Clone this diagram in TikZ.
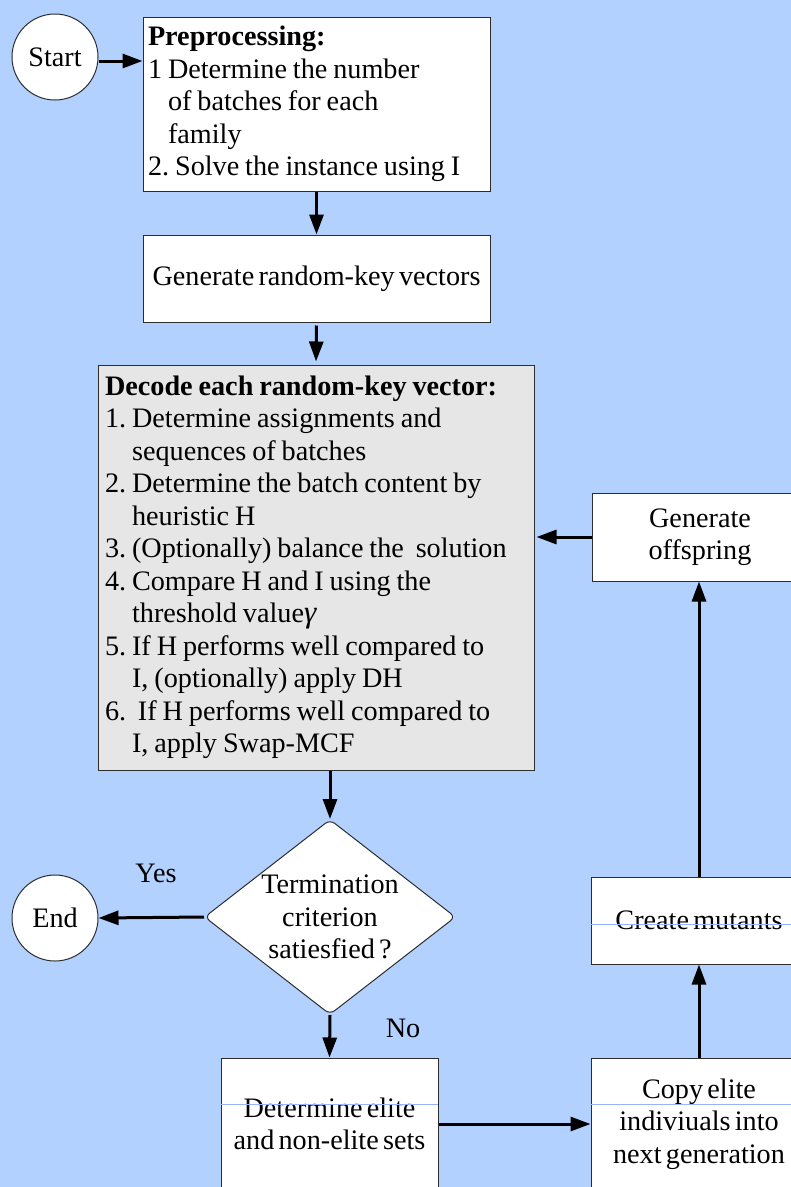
\documentclass[tikz,border=0pt]{standalone}
\usepackage{fontspec}
\setmainfont{Liberation Serif}[WordSpace={0.6,0,0}]
\usetikzlibrary{arrows.meta,shapes.geometric}

\definecolor{sky}{RGB}{179,209,255}
\definecolor{panel}{RGB}{230,230,230}
\definecolor{rim}{RGB}{45,45,45}

\begin{document}
\frenchspacing
\hyphenpenalty=10000
\begin{tikzpicture}[x=1pt,y=-1pt,
	every node/.style={font=\fontsize{28.2}{32.5}\selectfont},
	box/.style={draw=rim,line width=1pt,fill=white,inner sep=0pt,align=center},
	listbox/.style={box,align=left,inner xsep=#1,execute at begin node={\spaceskip=0.21em\xspaceskip=0.21em\relax}},
	terminal/.style={circle,draw=rim,line width=1pt,fill=white,inner sep=0pt,minimum size=86pt},
	decision/.style={diamond,draw=rim,line width=1pt,fill=white,inner sep=0pt,align=center,aspect=1.29,minimum width=251pt,minimum height=195pt,rounded corners=6pt},
	flow/.style={line width=3pt,-{Triangle[length=20pt,width=14pt]}},
	seam/.style={sky!85!blue,line width=0.7pt}]
		\useasboundingbox (0,0) rectangle (791,1187);
		\clip (0,0) rectangle (791,1187);
		\fill[sky] (0,0) rectangle (791,1187);
		% left column
		\node[terminal] (start) at (55,57) {Start};
		\node[listbox=5pt,text width=337pt,minimum height=174pt] (pre) at (316.5,104) {\textbf{Preprocessing:}\\
			1 Determine the number\\
			\hphantom{1 }of batches for each\\
			\hphantom{1 }family\\
			2. Solve the instance using I};
		\node[box,minimum width=347pt,minimum height=87pt] (keys) at (316.5,278.5) {Generate random-key vectors};
		\node[listbox=7pt,text width=422pt,minimum height=405pt,fill=panel] (decode) at (316,567.5) {\textbf{Decode each random-key vector:}\\
			1. Determine assignments and\\
			\hphantom{1. }sequences of batches\\
			2. Determine the batch content by\\
			\hphantom{2. }heuristic H\\
			3. (Optionally) balance the \ solution\\
			4. Compare H and I using the\\
			\hphantom{4. }threshold value{\itshape\fontsize{31}{32.5}\selectfont γ}\\
			5. If H performs well compared to\\
			\hphantom{5. }I, (optionally) apply DH\\
			6. \ If H performs well compared to\\
			\hphantom{6. }I, apply Swap-MCF};
		\node[decision] (term) at (330,917) {Termination\\criterion\\satiesfied ?};
		\node[terminal] (end) at (55,918) {End};
		\node[box,minimum width=217pt,minimum height=132pt] (elite) at (329.5,1124) {Determine elite\\and non-elite sets};
		% right column
		\node[box,minimum width=216pt,minimum height=132pt] (copy) at (699,1124) {Copy elite\\indiviuals into\\next generation};
		\node[box,minimum width=216pt,minimum height=87pt] (mutants) at (699,920.5) {Create mutants};
		\node[box,minimum width=216pt,minimum height=88pt] (offspring) at (700,537) {Generate\\offspring};
		% faint lines across boxes
		\draw[seam] (mutants.west) ++(0,3.5) -- ++(200,0);
		\draw[seam] (elite.west) ++(0,-20) -- ++(217,0);
		\draw[seam] (copy.west) ++(0,-20) -- ++(200,0);
		% labels
		\node (yes) at (156,873) {Yes};
		\node (no) at (403,1028) {No};
		% connectors
		\draw[flow] (start.east) ++(0,4) -- (pre.west |- 0,61);
		\draw[flow] (pre.south) -- (keys.north);
		\draw[flow,shorten <=3pt,shorten >=3pt] (keys.south) -- (decode.north);
		\draw[flow] (term.north |- decode.south) -- (term.north);
		\draw[flow] (term.west) -- (end.east);
		\draw[flow] (term.south) -- (elite.north);
		\draw[flow] (elite.east |- copy.west) -- (copy.west);
		\draw[flow] (copy.north) -- (mutants.south);
		\draw[flow] (mutants.north) -- (mutants.north |- offspring.south);
		\draw[flow,shorten >=2pt] (offspring.west) -- (decode.east |- offspring.west);
	\end{tikzpicture}
\end{document}
